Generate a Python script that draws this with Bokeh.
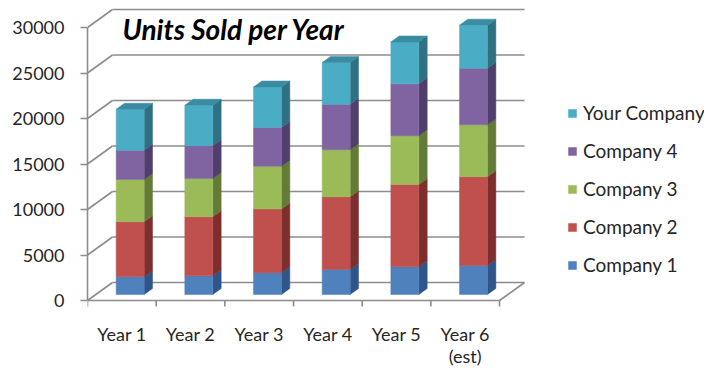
import numpy as np
from bokeh.plotting import figure
from bokeh.models import Range1d, FixedTicker, Legend, LegendItem, Label
from bokeh.embed import file_html
from bokeh.resources import INLINE
from bokeh.core.properties import value

# ---------------- data ----------------
years = ["Year 1", "Year 2", "Year 3", "Year 4", "Year 5", "Year 6\n(est)"]
companies = ["Company 1", "Company 2", "Company 3", "Company 4", "Your Company"]
company1 = [1950, 2050, 2400, 2750, 3050, 3200]
company2 = [6050, 6500, 7000, 8000, 9050, 9750]
company3 = [4650, 4200, 4700, 5150, 5350, 5700]
company4 = [3200, 3600, 4250, 5000, 5700, 6200]
your_company = [4500, 4450, 4450, 4600, 4600, 4750]
y_ticks = [0, 5000, 10000, 15000, 20000, 25000, 30000]
title = "Units Sold per Year"

series = [company1, company2, company3, company4, your_company]
front_colors = ["#4F81BD", "#C0504D", "#9BBB59", "#8064A2", "#4BACC6"]
side_colors = ["#30558A", "#7D2F2D", "#647B38", "#503F6A", "#2F7082"]
top_color = "#3A8CA2"
grid_color = "#8C8C8C"
text_color = "#262626"
FONT = "Lato"

# ---------------- geometry (pixel-derived styling) ----------------
W, H = 704, 369
left_px, floor_px = 87, 300          # front axis x, front floor y (from top)
cat_px = 68.67                        # pixels per category
val_px = 45.5 / 5000                  # pixels per unit
x_per_px = 1 / cat_px
y_per_px = 1 / val_px
depth_x = 25 * x_per_px
depth_y = 18 * y_per_px
face_x, face_y = depth_x / 3, depth_y / 3
side_x, side_y = depth_x / 3, depth_y / 3
bar_w = 28 * x_per_px

n = len(years)
centers = np.arange(n) + 0.5

p = figure(width=W, height=H, output_backend="svg", toolbar_location=None,
           x_range=Range1d(0, (W - left_px) * x_per_px),
           y_range=Range1d(-(H - floor_px) * y_per_px, floor_px * y_per_px),
           x_axis_location=None, y_axis_location="left",
           min_border_left=left_px, min_border_right=0,
           min_border_top=0, min_border_bottom=0)
p.outline_line_color = None
p.grid.visible = False
p.background_fill_color = "white"
p.border_fill_color = "white"

yt = np.array(y_ticks, dtype=float)
gl = dict(line_color=grid_color, line_width=1.6)
# back wall gridlines
p.segment(x0=np.full(len(yt), depth_x), y0=yt + depth_y,
          x1=np.full(len(yt), n + depth_x), y1=yt + depth_y, **gl)
# left wall diagonals
p.segment(x0=np.zeros(len(yt)), y0=yt, x1=np.full(len(yt), depth_x), y1=yt + depth_y, **gl)
# floor front edge, right edge and category ticks
p.segment(x0=[0], y0=[0], x1=[n], y1=[0], **gl)
p.segment(x0=[n], y0=[0], x1=[n + depth_x], y1=[depth_y], **gl)
bounds = np.arange(n + 1, dtype=float)
p.segment(x0=bounds, y0=np.zeros(n + 1), x1=bounds, y1=np.full(n + 1, -6 * y_per_px), **gl)

# bars
bottom = np.zeros(n)
fronts = []
for j, vals in enumerate(series):
    top = bottom + np.array(vals, dtype=float)
    xl = centers + face_x - bar_w / 2
    xr = xl + bar_w
    b = bottom + face_y
    t = top + face_y
    xs = [[r, r + side_x, r + side_x, r] for r in xr]
    ys = [[bb, bb + side_y, tt + side_y, tt] for bb, tt in zip(b, t)]
    p.patches(xs, ys, fill_color=side_colors[j], line_color=side_colors[j], line_width=0.5)
    r = p.vbar(x=centers + face_x, width=bar_w, bottom=b, top=t,
               fill_color=front_colors[j], line_color=front_colors[j], line_width=0.5)
    fronts.append(r)
    bottom = top

# top faces
xl = centers + face_x - bar_w / 2
xr = xl + bar_w
tt = bottom + face_y
p.patches([[a, c, c + side_x, a + side_x] for a, c in zip(xl, xr)],
          [[v, v, v + side_y, v + side_y] for v in tt],
          fill_color=top_color, line_color=top_color, line_width=0.5)

# y axis
ax = p.yaxis[0]
ax.ticker = FixedTicker(ticks=y_ticks)
ax.bounds = (0, max(y_ticks))
ax.axis_line_color = grid_color
ax.axis_line_width = 1.6
ax.major_tick_line_color = grid_color
ax.major_tick_line_width = 1.6
ax.major_tick_out = 7
ax.major_tick_in = 0
ax.minor_tick_line_color = None
ax.major_label_standoff = 16
ax.major_label_text_font = FONT
ax.major_label_text_font_size = "18px"
ax.major_label_text_color = text_color

# category labels
p.text(x=centers, y=np.full(n, -22 * y_per_px), text=years,
       text_font=value(FONT), text_font_size="18px", text_color=text_color,
       text_align="center", text_baseline="top", text_line_height=1.0)

# title
p.add_layout(Label(x=(122 - left_px) * x_per_px, y=(floor_px - 28) * y_per_px,
                   text=title, text_font=FONT, text_font_size="28px",
                   text_font_style="bold italic", text_color="black",
                   text_baseline="middle"))

# legend
items = [LegendItem(label=companies[j], renderers=[fronts[j]]) for j in reversed(range(len(companies)))]
legend = Legend(items=items, location=(567 - left_px, H - 276),
                glyph_width=10, glyph_height=10, label_height=22, spacing=15,
                padding=0, margin=0, border_line_color=None, background_fill_alpha=0,
                label_text_font=FONT, label_text_font_size="19px",
                label_text_color=text_color, label_standoff=6)
p.add_layout(legend)

open("out.html", "w").write(file_html(p, INLINE))
